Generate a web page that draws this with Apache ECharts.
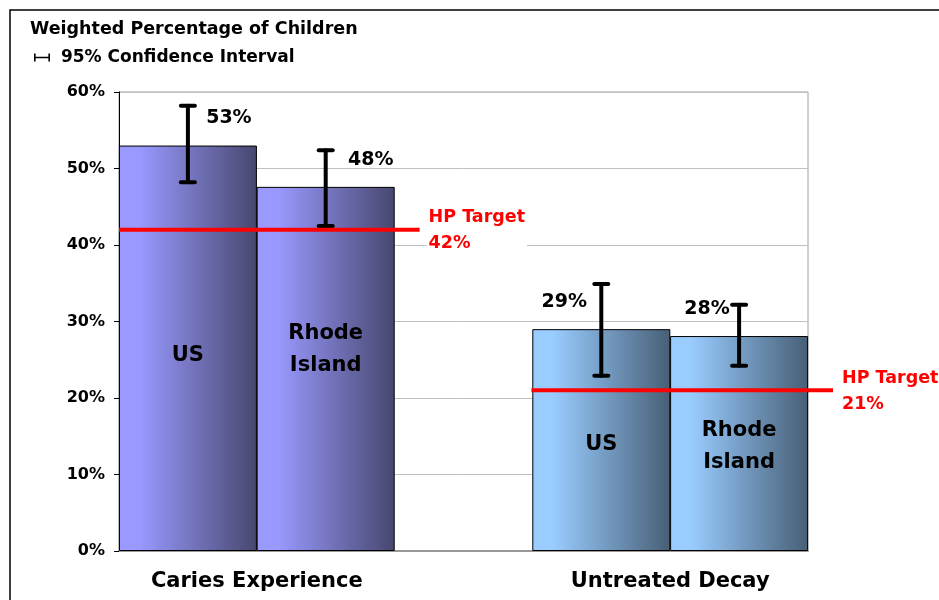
<!DOCTYPE html>
<html>
<head>
<meta charset="utf-8">
<script src="https://cdn.jsdelivr.net/npm/echarts@6/dist/echarts.min.js"></script>
<style>
  html, body { margin: 0; padding: 0; background: #fff; }
  #chart { width: 939px; height: 600px; }
</style>
</head>
<body>
<div id="chart"></div>
<script>
// groups along the x axis
var groups = ['Caries Experience', 'Untreated Decay'];
// bar series
var seriesNames = ['US', 'Rhode\nIsland'];
var usValues = [53, 29];
var riValues = [47.6, 28.1];
var valueLabels = [['53%', '29%'], ['48%', '28%']];
// 95% confidence intervals [low, high]
var usCI = [[48.2, 58.2], [22.9, 34.9]];
var riCI = [[42.5, 52.4], [24.2, 32.2]];
// Healthy People targets
var hpTargets = [42, 21];
var hpLabels = ['42%', '21%'];
var yTicks = [0, 10, 20, 30, 40, 50, 60];

var FONT = '"DejaVu Sans", "Liberation Sans", Arial, sans-serif';
var purple = ['#9999ff', '#47476f'];
var blue = ['#99ccff', '#475f76'];

function grad(c) {
    return new echarts.graphic.LinearGradient(0, 0, 1, 0, [
        { offset: 0, color: c[0] },
        { offset: 0.15, color: c[0] },
        { offset: 1, color: c[1] }
    ]);
}

// x position of a bar: 3 units per group, bar s sits at s + 0.5
function xPos(g, s) { return g * 3 + s + 0.5; }

var barColors = [purple, blue];
var innerOffsets = [[[0, 7], [0, 4]], [[0, -19], [0, 3]]];

function barData(s, vals) {
    return vals.map(function (v, g) {
        return {
            value: [xPos(g, s), v],
            itemStyle: { color: grad(barColors[g]) },
            label: { offset: innerOffsets[s][g] }
        };
    });
}

var errData = [];
var labelShift = [[41, -37], [45, -32]];
[usCI, riCI].forEach(function (ci, s) {
    ci.forEach(function (r, g) {
        var v = s === 0 ? usValues[g] : riValues[g];
        errData.push([xPos(g, s), r[0], r[1], v, s, g]);
    });
});

var chart = echarts.init(document.getElementById('chart'));
var option = {
    animation: false,
    textStyle: { fontFamily: FONT },
    title: {
        text: 'Weighted Percentage of Children',
        left: 25, top: 15,
        textStyle: { fontFamily: FONT, fontSize: 17.5, fontWeight: 'bold', color: '#000' }
    },
    legend: {
        left: 29, top: 44,
        data: ['95% Confidence Interval'],
        formatter: function (n) { return ' ' + n; },
        icon: 'path://M0,0h2v10h-2zM0,4h20v2h-20zM18,0h2v10h-2z',
        itemWidth: 16, itemHeight: 8, itemGap: 6,
        textStyle: { fontFamily: FONT, fontSize: 17, fontWeight: 'bold', color: '#000' }
    },
    graphic: [{
        type: 'rect',
        shape: { x: 10, y: 10, width: 1000, height: 700 },
        style: { fill: 'none', stroke: '#000', lineWidth: 1.5 },
        silent: true
    }],
    grid: {
        left: 119, right: 131, top: 92, bottom: 49,
        show: true, borderColor: '#a0a0a0', borderWidth: 1
    },
    xAxis: {
        type: 'value', min: 0, max: 5, interval: 1,
        axisLine: { show: true, lineStyle: { color: '#999', width: 2 } },
        axisTick: { show: false },
        splitLine: { show: false },
        axisLabel: {
            margin: 20,
            fontFamily: FONT, fontSize: 21, fontWeight: 'bold', color: '#000',
            formatter: function (v) {
                var g = (v - 1) / 3;
                return groups[g] !== undefined ? groups[g] : '';
            }
        }
    },
    yAxis: {
        type: 'value', min: yTicks[0], max: yTicks[yTicks.length - 1], interval: 10,
        axisLine: { show: true, lineStyle: { color: '#000', width: 1 } },
        axisTick: { show: true, length: 5, lineStyle: { color: '#000' } },
        splitLine: { show: true, lineStyle: { color: '#c0c0c0', width: 1 } },
        axisLabel: {
            margin: 14,
            fontFamily: FONT, fontSize: 16, fontWeight: 'bold', color: '#000',
            formatter: '{value}%'
        }
    },
    series: [
        {
            name: seriesNames[0], type: 'bar', barWidth: 138, barGap: '-100%',
            itemStyle: { borderColor: '#000', borderWidth: 1 },
            label: {
                show: true, position: 'inside', formatter: seriesNames[0],
                fontFamily: FONT, fontSize: 21, fontWeight: 'bold', color: '#000'
            },
            data: barData(0, usValues)
        },
        {
            name: seriesNames[1], type: 'bar', barWidth: 138, barGap: '-100%',
            itemStyle: { borderColor: '#000', borderWidth: 1 },
            label: {
                show: true, position: 'inside', formatter: seriesNames[1],
                lineHeight: 32,
                fontFamily: FONT, fontSize: 21, fontWeight: 'bold', color: '#000'
            },
            data: barData(1, riValues)
        },
        {
            name: '95% Confidence Interval', type: 'custom', z: 5,
            itemStyle: { color: '#000' },
            data: errData,
            renderItem: function (params, api) {
                var x = api.value(0);
                var lo = api.coord([x, api.value(1)]);
                var hi = api.coord([x, api.value(2)]);
                var top = api.coord([x, api.value(3)]);
                var s = api.value(4), g = api.value(5);
                var cap = 7;
                var ls = { stroke: '#000', lineWidth: 4, lineCap: 'round' };
                return {
                    type: 'group',
                    children: [
                        { type: 'line', shape: { x1: hi[0], y1: hi[1], x2: lo[0], y2: lo[1] }, style: ls },
                        { type: 'line', shape: { x1: hi[0] - cap, y1: hi[1], x2: hi[0] + cap, y2: hi[1] }, style: ls },
                        { type: 'line', shape: { x1: lo[0] - cap, y1: lo[1], x2: lo[0] + cap, y2: lo[1] }, style: ls },
                        {
                            type: 'text',
                            x: top[0] + labelShift[s][g], y: top[1] - 27,
                            style: {
                                text: valueLabels[s][g], align: 'center', verticalAlign: 'middle',
                                fontFamily: FONT, fontSize: 19, fontWeight: 'bold', fill: '#000'
                            }
                        }
                    ]
                };
            }
        },
        {
            name: 'HP Target', type: 'custom', z: 6, clip: false,
            data: hpTargets.map(function (v, g) { return [g, v]; }),
            renderItem: function (params, api) {
                var g = api.value(0);
                var a = api.coord([g * 3, api.value(1)]);
                var b = api.coord([g * 3 + 2, api.value(1)]);
                var x0 = g === 0 ? a[0] : a[0] - 1;
                var x1 = b[0] + 25;
                return {
                    type: 'group',
                    children: [
                        {
                            type: 'line',
                            shape: { x1: x0, y1: a[1], x2: x1, y2: a[1] },
                            style: { stroke: '#ff0000', lineWidth: 4 }
                        },
                        {
                            type: 'text',
                            x: x1 + 7, y: a[1] + 1,
                            style: {
                                text: 'HP Target\n' + hpLabels[g],
                                align: 'left', verticalAlign: 'middle', lineHeight: 26,
                                fontFamily: FONT, fontSize: 17.5, fontWeight: 'bold', fill: '#ff0000',
                                backgroundColor: '#fff', padding: [0, 2]
                            }
                        }
                    ]
                };
            }
        }
    ]
};
chart.setOption(option);
</script>
</body>
</html>
